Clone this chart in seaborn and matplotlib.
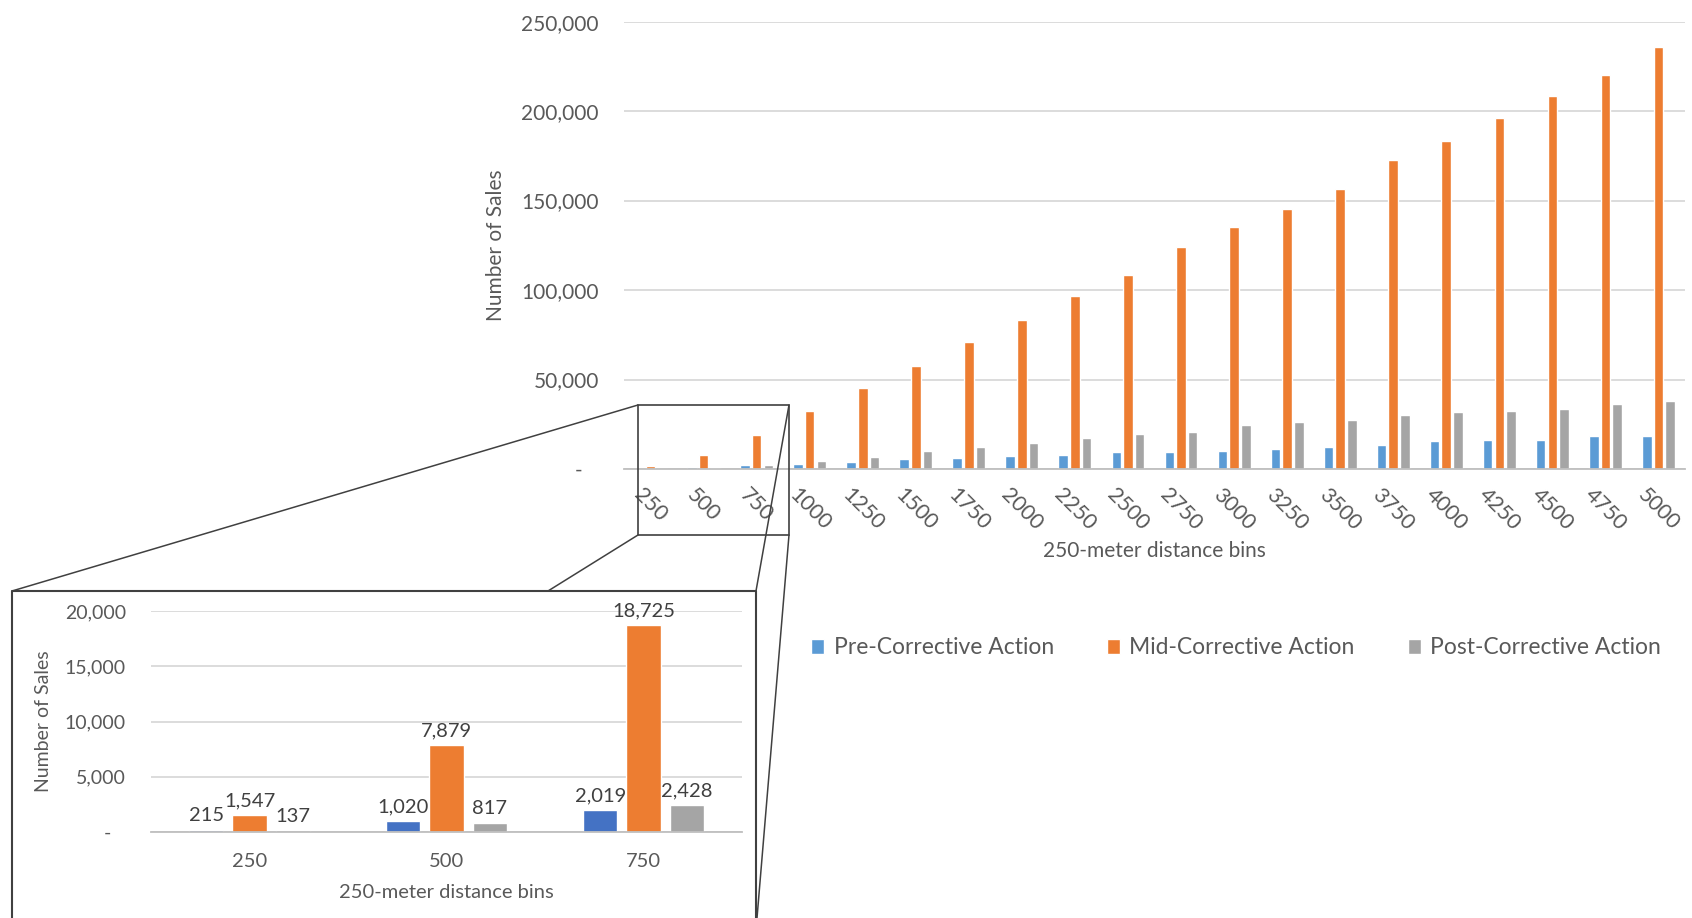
import matplotlib
matplotlib.use("Agg")
import matplotlib.pyplot as plt
from matplotlib.lines import Line2D
from matplotlib.patches import Patch, Rectangle
from matplotlib.ticker import FuncFormatter, MultipleLocator
import pandas as pd
import seaborn as sns

# Sales counts per 250 m distance bin, for each phase of the corrective action
distance_bins = ["250", "500", "750", "1000", "1250", "1500", "1750", "2000",
                 "2250", "2500", "2750", "3000", "3250", "3500", "3750", "4000",
                 "4250", "4500", "4750", "5000"]
phases = ["Pre-Corrective Action", "Mid-Corrective Action", "Post-Corrective Action"]
pre_sales = [215, 1020, 2019, 2990, 4100, 5600, 6340, 7460, 8040, 9350,
             9720, 10280, 11220, 12530, 13460, 15520, 16270, 16450, 18510, 18700]
mid_sales = [1547, 7879, 18725, 32650, 45150, 57280, 70900, 83400, 96830, 108260,
             123970, 135370, 145280, 156310, 172770, 183050, 196330, 208480, 220260, 235780]
post_sales = [137, 817, 2428, 4660, 6900, 10260, 12500, 14370, 17350, 19820,
              20940, 24310, 26370, 27110, 30290, 31790, 32530, 33470, 36460, 37960]
inset_count = 3  # first three bins shown enlarged

main_colors = ["#5B9BD5", "#ED7D31", "#A5A5A5"]
inset_colors = ["#4472C4", "#ED7D31", "#A5A5A5"]
TEXT = "#595959"
GRID = "#D9D9D9"

sns.set_style("white")
plt.rcParams["font.family"] = ["Lato", "DejaVu Sans"]

W, H = 1692, 918
fig = plt.figure(figsize=(W / 100, H / 100), dpi=100)


def fx(px):
    return px / W


def fy(py):
    return 1 - py / H


def frame(data, bins):
    return pd.DataFrame({
        "bin": bins * len(phases),
        "phase": [p for p in phases for _ in bins],
        "sales": data,
    })


def zero_dash(v, _):
    return "-   " if v == 0 else f"{v:,.0f}"


def style_axes(ax, fs):
    for s in ("top", "right", "left"):
        ax.spines[s].set_visible(False)
    ax.spines["bottom"].set_color("#BFBFBF")
    ax.spines["bottom"].set_linewidth(1.3)
    ax.yaxis.grid(True, color=GRID, linewidth=1.3)
    ax.set_axisbelow(True)
    ax.yaxis.set_major_formatter(FuncFormatter(zero_dash))
    ax.tick_params(axis="both", length=0, labelsize=fs, labelcolor=TEXT)


# ---- main chart -------------------------------------------------------------
main_df = frame(pre_sales + mid_sales + post_sales, distance_bins)
ax = fig.add_axes([fx(624), fy(469), (1685 - 624) / W, (469 - 21.6) / H])
sns.barplot(data=main_df, x="bin", y="sales", hue="phase", order=distance_bins,
            hue_order=phases, palette=main_colors, width=0.66, gap=0.18,
            saturation=1, errorbar=None, legend=False, ax=ax)
ax.set_ylim(0, 250000)
ax.yaxis.set_major_locator(MultipleLocator(50000))
style_axes(ax, 15)
ax.tick_params(axis="y", pad=18)
ax.tick_params(axis="x", pad=11, labelsize=15.5)
for lbl in ax.get_xticklabels():
    lbl.set_rotation(-45)
    lbl.set_ha("center")
ax.set_xlabel("250-meter distance bins", fontsize=15, color=TEXT)
ax.set_ylabel("Number of Sales", fontsize=15, color=TEXT)
ax.xaxis.set_label_coords(0.5, (469 - 551) / 447.4)
ax.xaxis.label.set_va("center")
ax.yaxis.set_label_coords((496 - 624) / 1061, 0.5)
ax.yaxis.label.set_va("center")

# ---- enlarged view of the first bins ---------------------------------------
inset_bins = distance_bins[:inset_count]
inset_df = frame(pre_sales[:inset_count] + mid_sales[:inset_count] + post_sales[:inset_count],
                 inset_bins)
axi = fig.add_axes([fx(151), fy(832), (742 - 151) / W, (832 - 611) / H])
sns.barplot(data=inset_df, x="bin", y="sales", hue="phase", order=inset_bins,
            hue_order=phases, palette=inset_colors, width=0.66, gap=0.2,
            saturation=1, errorbar=None, legend=False, ax=axi)
axi.set_ylim(0, 20000)
axi.yaxis.set_major_locator(MultipleLocator(5000))
style_axes(axi, 14)
axi.tick_params(axis="y", pad=18)
axi.tick_params(axis="x", pad=15, labelsize=14.5)
for cont in axi.containers:
    axi.bar_label(cont, fmt="{:,.0f}", padding=4, fontsize=14.5, color="#404040")
axi.set_xlabel("250-meter distance bins", fontsize=14.5, color=TEXT)
axi.set_ylabel("Number of Sales", fontsize=14, color=TEXT)
axi.xaxis.set_label_coords(0.5, (832 - 892) / 221)
axi.xaxis.label.set_va("center")
axi.yaxis.set_label_coords((43 - 151) / 591, 0.5)
axi.yaxis.label.set_va("center")

# ---- magnifier frame and connectors ----------------------------------------
EDGE = "#404040"
fig.add_artist(Rectangle((fx(638), fy(535)), (789 - 638) / W, (535 - 405) / H,
                         transform=fig.transFigure, fill=False, edgecolor=EDGE,
                         linewidth=1.2))
for (x0, y0), (x1, y1) in [((638, 405), (12, 591)), ((638, 535), (548, 591)),
                           ((789, 405), (756, 591)), ((789, 535), (757, 918))]:
    fig.add_artist(Line2D([fx(x0), fx(x1)], [fy(y0), fy(y1)], transform=fig.transFigure,
                          color=EDGE, linewidth=1.1))
fig.add_artist(Line2D([fx(12), fx(12), fx(756), fx(756)], [fy(918), fy(591), fy(591), fy(918)],
                      transform=fig.transFigure, color=EDGE, linewidth=1.5))

# ---- legend -----------------------------------------------------------------
handles = [Patch(facecolor=c, label=p) for c, p in zip(main_colors, phases)]
fig.legend(handles=handles, loc="center", bbox_to_anchor=(fx(1236), fy(648)), ncol=3,
           frameon=False, fontsize=16.5, handlelength=0.6, handleheight=0.6,
           handletextpad=0.4, columnspacing=2.3, labelcolor=TEXT)

fig.savefig("out.png", dpi=100)
